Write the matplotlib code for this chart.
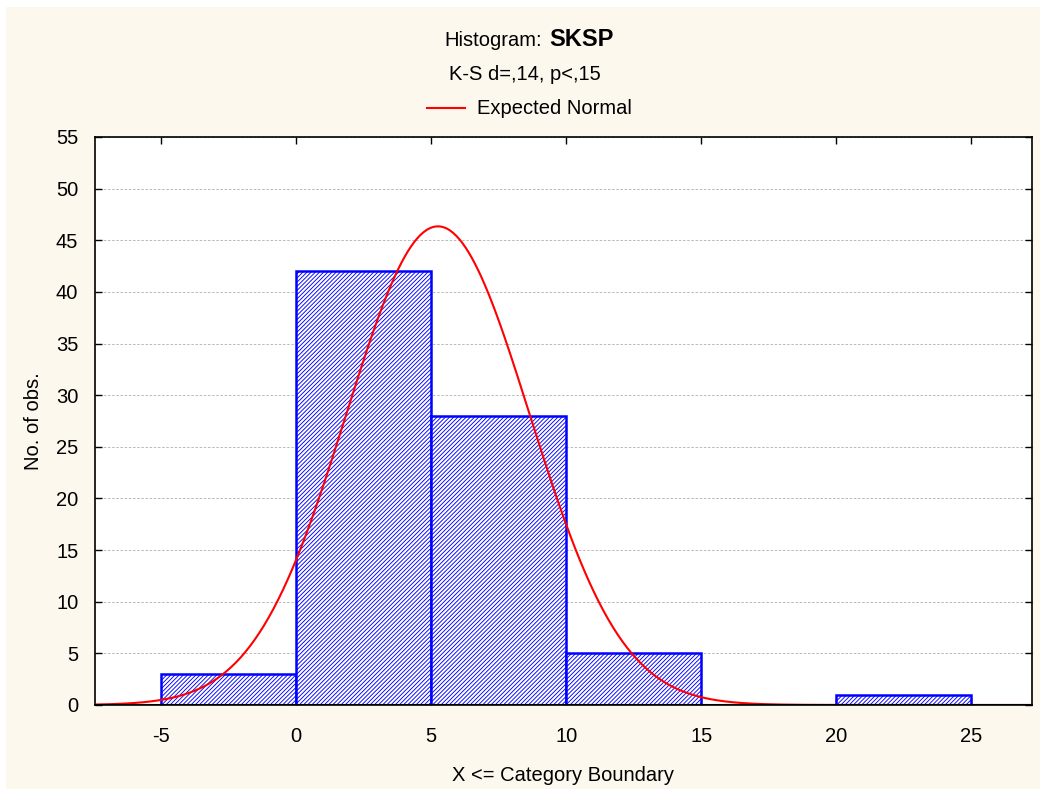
import numpy as np
import matplotlib
matplotlib.use("Agg")
import matplotlib.pyplot as plt
from matplotlib.lines import Line2D
from matplotlib.patches import Rectangle

plt.rcParams['font.family'] = ['Liberation Sans', 'DejaVu Sans']
plt.rcParams['hatch.linewidth'] = 0.65
plt.rcParams['hatch.color'] = '#0000ff'
plt.rcParams['axes.unicode_minus'] = False

bin_edges = [-5, 0, 5, 10, 15, 20, 25]
counts = [3, 42, 28, 5, 0, 1]
mean_val = 5.25
sd_val = 3.4
n_obs = sum(counts)
bin_w = 5

xticks = [-5, 0, 5, 10, 15, 20, 25]
yticks = [0, 5, 10, 15, 20, 25, 30, 35, 40, 45, 50, 55]

bg = '#fdf8ee'
fs = 14.5
fig = plt.figure(figsize=(10.4, 7.89), dpi=100, facecolor=bg)
fig.add_artist(Rectangle((0, 0), 6/1040, 1, transform=fig.transFigure, facecolor='white', edgecolor='none'))
fig.add_artist(Rectangle((0, 1-7/789), 1, 7/789, transform=fig.transFigure, facecolor='white', edgecolor='none'))
ax = fig.add_axes([95/1040, 1-705/789, (1032-95)/1040, (705-137)/789])
ax.set_facecolor('white')

for i, c in enumerate(counts):
    if c <= 0:
        continue
    ax.bar(bin_edges[i], c, width=bin_edges[i+1]-bin_edges[i], align='edge',
           facecolor='white', edgecolor='#0000ff', hatch='////////', linewidth=1.8, zorder=2)

xs = np.linspace(-7.45, 27.25, 600)
ys = n_obs * bin_w / (sd_val*np.sqrt(2*np.pi)) * np.exp(-0.5*((xs-mean_val)/sd_val)**2)
ax.plot(xs, ys, color='#ff0000', lw=1.5, zorder=3)

ax.set_xlim(-7.45, 27.25)
ax.set_ylim(0, 55)
ax.set_xticks(xticks)
ax.set_yticks(yticks)
ax.tick_params(direction='in', length=5, width=1, top=True, right=True, labelsize=fs)
ax.tick_params(axis='x', pad=16)
ax.tick_params(axis='y', pad=12)
ax.grid(axis='y', color='#b0b0b0', linestyle=(0, (3, 2)), linewidth=0.6, zorder=0)
ax.set_axisbelow(True)
for s in ax.spines.values():
    s.set_linewidth(1.2)
    s.set_color('black')
ax.axhline(0, color='black', lw=1.5, zorder=4)

ax.set_ylabel('No. of obs.', fontsize=fs, labelpad=9)
ax.set_xlabel('X <= Category Boundary', fontsize=fs, labelpad=14)

fig.text(542/1040, 1-41/789, 'Histogram:', ha='right', va='center', fontsize=fs)
fig.text(549/1040, 1-40/789, 'SKSP', ha='left', va='center', fontsize=17, fontweight='bold')
fig.text(525/1040, 1-75/789, 'K-S d=,14, p<,15', ha='center', va='center', fontsize=fs)
fig.add_artist(Line2D([427/1040, 465/1040], [1-108/789, 1-108/789], color='#ff0000', lw=1.5))
fig.text(477/1040, 1-108/789, 'Expected Normal', ha='left', va='center', fontsize=fs)

fig.savefig('out.png', dpi=100, facecolor=bg)
